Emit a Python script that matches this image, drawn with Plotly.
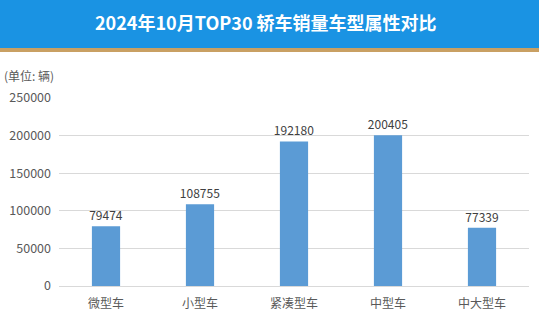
import plotly.graph_objects as go

categories = ["微型车", "小型车", "紧凑型车", "中型车", "中大型车"]
sales = [79474, 108755, 192180, 200405, 77339]
tick_vals = [0, 50000, 100000, 150000, 200000, 250000]
tick_text = ["0", "50000", "100000", "150000", "200000", "250000"]

W, H = 539, 325
ml, mr, mt, mb = 59, 10, 98, 39
ph = H - mt - mb

def py(px):
    return (H - mb - px) / ph

def pxx(px):
    return (px - ml) / (W - ml - mr)

font = "Noto Sans CJK SC, Microsoft YaHei, sans-serif"

fig = go.Figure(go.Bar(
    x=categories, y=sales,
    marker=dict(color="#5B9BD5", line=dict(width=0)),
    width=0.3,
    text=[str(v) for v in sales],
    textposition="outside",
    constraintext="none",
    textfont=dict(size=12, color="#404040", family=font),
    cliponaxis=False,
))

fig.update_layout(
    width=W, height=H,
    margin=dict(l=ml, r=mr, t=mt, b=mb),
    paper_bgcolor="white", plot_bgcolor="white",
    showlegend=False,
    font=dict(family=font, size=12, color="#595959"),
    xaxis=dict(showgrid=False, showline=False, ticks="",
               ticklabelstandoff=9,
               tickfont=dict(size=12, color="#595959"), range=[-0.5, 4.5]),
    yaxis=dict(range=[0, 250000], tickvals=tick_vals, ticktext=tick_text,
               showgrid=True, gridcolor="#D9D9D9", gridwidth=1,
               zeroline=True, zerolinecolor="#D9D9D9", zerolinewidth=1,
               showline=False, ticks="", ticklabelstandoff=7,
               tickfont=dict(size=12.5, color="#595959")),
    shapes=[
        dict(type="rect", xref="paper", yref="paper",
             x0=pxx(0), x1=pxx(W), y0=py(48), y1=py(0),
             fillcolor="#1A93E3", line=dict(width=0), layer="above"),
        dict(type="rect", xref="paper", yref="paper",
             x0=pxx(0), x1=pxx(W), y0=py(52), y1=py(48),
             fillcolor="#C9A063", line=dict(width=0), layer="above"),
    ],
    annotations=[
        dict(text="<b>2024年10月TOP30 轿车销量车型属性对比</b>", xref="paper", yref="paper",
             x=pxx(266), y=py(22), xanchor="center", yanchor="middle", showarrow=False,
             font=dict(size=18, color="white", family=font)),
        dict(text="(单位: 辆)", xref="paper", yref="paper",
             x=pxx(2), y=py(75), xanchor="left", yanchor="middle", showarrow=False,
             font=dict(size=12, color="#595959", family=font)),
    ],
)

fig.write_html("out.html")
